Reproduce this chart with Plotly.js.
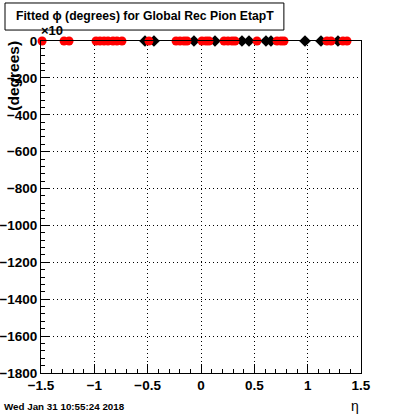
<!DOCTYPE html>
<html>
<head>
<meta charset="utf-8">
<script src="https://cdn.plot.ly/plotly-3.0.1.min.js"></script>
<style>html,body{margin:0;padding:0;background:#fff;}#plot{width:400px;height:414px;}</style>
</head>
<body>
<div id="plot"></div>
<script>
// Red series (eta values, fitted phi)
const redEta = [-1.49, -1.284, -1.237, -0.984, -0.947, -0.909, -0.872, -0.825, -0.788, -0.741,
  -0.488, -0.234, -0.197, -0.159, -0.131, 0.009, 0.047, 0.075, 0.216, 0.253, 0.291, 0.319,
  0.525, 0.713, 0.75, 0.778, 1.181, 1.219, 1.331, 1.369];
const redPhi = redEta.map(() => 0);
// Black series
const blackEta = [-0.525, -0.441, -0.066, 0.131, 0.384, 0.45, 0.609, 0.656, 0.975, 1.125, 1.284];
const blackPhi = blackEta.map(() => 0);
const yTickVals = [0, -200, -400, -600, -800, -1000, -1200, -1400, -1600, -1800];
const xTickVals = [-1.5, -1, -0.5, 0, 0.5, 1, 1.5];

const tickFont = {family: 'Liberation Sans, Arial, sans-serif', size: 13.5, color: '#000', weight: 'bold'};

const traces = [
  {x: blackEta, y: blackPhi, type: 'scatter', mode: 'markers', cliponaxis: false,
   marker: {symbol: 'diamond', size: 9, color: '#000'}, hoverinfo: 'skip'},
  {x: redEta, y: redPhi, type: 'scatter', mode: 'markers', cliponaxis: false,
   marker: {symbol: 'circle', size: 9, color: '#ff0000'}, hoverinfo: 'skip'}
];

const layout = {
  width: 400, height: 414,
  margin: {l: 41, r: 39, t: 41, b: 41},
  paper_bgcolor: '#fff', plot_bgcolor: '#fff',
  showlegend: false,
  xaxis: {
    range: [-1.5, 1.5], tickvals: xTickVals, ticktext: xTickVals.map(v => (v < 0 ? '\u2212' : '') + Math.abs(v)),
    ticks: 'inside', ticklen: 9, tickcolor: '#000', tickwidth: 1,
    minor: {dtick: 0.1, ticks: 'inside', ticklen: 4, tickcolor: '#000', showgrid: false},
    showline: true, linecolor: '#000', linewidth: 1, mirror: true,
    showgrid: true, gridcolor: '#000', griddash: '1px,3px', gridwidth: 1,
    zeroline: false, tickfont: tickFont, fixedrange: true
  },
  yaxis: {
    range: [-1800, 0], tickvals: yTickVals, ticktext: yTickVals.map(v => (v < 0 ? '\u2212' : '') + Math.abs(v)),
    ticks: 'inside', ticklen: 9, tickcolor: '#000', tickwidth: 1,
    minor: {dtick: 40, ticks: 'inside', ticklen: 4, tickcolor: '#000', showgrid: false},
    showline: true, linecolor: '#000', linewidth: 1, mirror: true,
    showgrid: true, gridcolor: '#000', griddash: '1px,3px', gridwidth: 1,
    zeroline: false, tickfont: tickFont, fixedrange: true
  },
  shapes: [
    {type: 'rect', xref: 'paper', yref: 'paper', x0: -0.1125, x1: 0.759, y0: 1.033, y1: 1.1145,
     line: {color: '#000', width: 1}, fillcolor: '#fff', layer: 'above'}
  ],
  annotations: [
    {xref: 'paper', yref: 'paper', x: 0.325, y: 1.074, text: 'Fitted \u03d5 (degrees) for Global Rec Pion EtapT',
     showarrow: false, xanchor: 'center', yanchor: 'middle',
     font: {family: 'Liberation Sans, Arial, sans-serif', size: 12.2, color: '#000', weight: 'bold'}},
    {xref: 'paper', yref: 'paper', x: -0.005, y: 1.003, text: '\u00d710', showarrow: false,
     xanchor: 'left', yanchor: 'bottom',
     font: {family: 'Liberation Sans, Arial, sans-serif', size: 13, color: '#000', weight: 'bold'}},
    {xref: 'paper', yref: 'paper', x: -0.085, y: 0.895, text: '(degrees)', showarrow: false, textangle: -90,
     xanchor: 'center', yanchor: 'middle',
     font: {family: 'Liberation Sans, Arial, sans-serif', size: 15.5, color: '#000', weight: 'bold'}},
    {xref: 'paper', yref: 'paper', x: -0.121, y: -0.1, text: 'Wed Jan 31 10:55:24 2018', showarrow: false,
     xanchor: 'left', yanchor: 'middle',
     font: {family: 'Liberation Sans, Arial, sans-serif', size: 9.8, color: '#000', weight: 'bold'}},
    {xref: 'paper', yref: 'paper', x: 0.98, y: -0.1, text: '\u03b7', showarrow: false,
     xanchor: 'center', yanchor: 'middle',
     font: {family: 'Liberation Sans, Arial, sans-serif', size: 14, color: '#000'}}
  ]
};

Plotly.newPlot('plot', traces, layout, {staticPlot: true, displayModeBar: false});
</script>
</body>
</html>
